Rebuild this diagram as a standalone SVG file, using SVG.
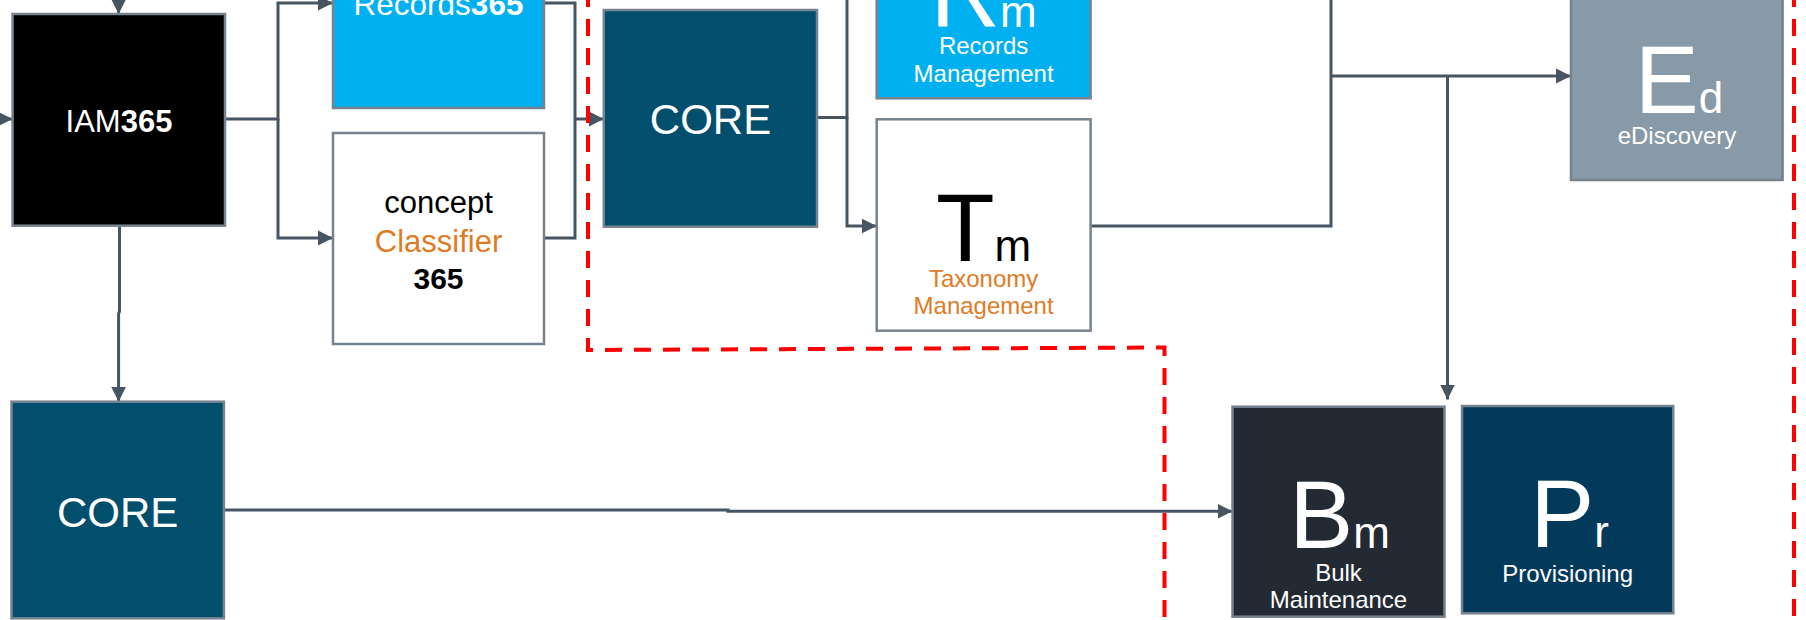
<svg xmlns="http://www.w3.org/2000/svg" width="1806" height="620" viewBox="0 0 1806 620">
<style>
.box{stroke:#76838f;stroke-width:2.5}
.conn{fill:none;stroke:#475563;stroke-width:3}
.arr{marker-end:url(#ah)}
.red{fill:none;stroke:#ff0000;stroke-width:4;stroke-dasharray:17 12}
text{font-family:"Liberation Sans",Arial,sans-serif;text-anchor:middle}
.w{fill:#ffffff}
.k{fill:#000000}
.o{fill:#e07b24}
.big{font-size:96px}
.sub{font-size:44px}
.lbl{font-size:24px}
.core{font-size:42px}
</style>
<defs>
<marker id="ah" markerUnits="userSpaceOnUse" markerWidth="16" markerHeight="16" viewBox="0 0 16 16" refX="15" refY="8" orient="auto">
<path d="M0,0.5 L15,8 L0,15.5 Z" fill="#475563"/>
</marker>
</defs>
<rect width="1806" height="620" fill="#ffffff"/>

<g id="connectors">
<path class="conn arr" d="M118.6,-20 V14"/>
<path class="conn arr" d="M-20,119 H12.6"/>
<path class="conn arr" d="M225,119 H278 V3 H333"/>
<path class="conn arr" d="M278,119 V238 H333"/>
<path class="conn" d="M544,3 H575 V238 H544"/>
<path class="conn arr" d="M575,119 H603.8"/>
<path class="conn" d="M817,117.5 H847 V-20"/>
<path class="conn arr" d="M847,117.5 V226 H876.7"/>
<path class="conn" d="M1090.6,226 H1331 V-20"/>
<path class="conn arr" d="M1331,76 H1571"/>
<path class="conn arr" d="M1447.5,76 V399.5"/>
<path class="conn arr" d="M119.5,226 V311 L118.6,314 V401.7"/>
<path class="conn arr" d="M224,510 H728 V511.3 H1232.5"/>
</g>

<g id="boundary">
<path class="red" d="M588,-10 V350 L1164.5,347.5 V630"/>
<path class="red" d="M1794,-10 V630"/>
</g>

<g id="iam365">
<rect class="box" x="12.6" y="14" width="212.4" height="211.7" fill="#000000"/>
<text x="119" y="131.5" font-size="31" class="w">IAM<tspan font-weight="bold">365</tspan></text>
</g>

<g id="records365">
<rect class="box" x="333" y="-104" width="211" height="212" fill="#00b0f0"/>
<text x="438.5" y="15" font-size="31.5" class="w">Records<tspan font-weight="bold">365</tspan></text>
</g>

<g id="classifier365">
<rect class="box" x="333" y="133" width="211" height="211" fill="#ffffff"/>
<text x="438.5" y="213" font-size="31" class="k">concept</text>
<text x="438.5" y="252" font-size="31" class="o">Classifier</text>
<text x="438.5" y="289" font-size="30" class="k" font-weight="bold">365</text>
</g>

<g id="core-top">
<rect class="box" x="603.8" y="10" width="213.2" height="216.7" fill="#014f6d"/>
<text x="710.5" y="134" class="core w">CORE</text>
</g>

<g id="records-management">
<rect class="box" x="876.7" y="-120" width="213.9" height="218.3" fill="#00b0f0"/>
<text x="983.6" y="27.3" class="w"><tspan class="big">R</tspan><tspan class="sub">m</tspan></text>
<text x="983.6" y="54" class="lbl w">Records</text>
<text x="983.6" y="81.7" class="lbl w">Management</text>
</g>

<g id="taxonomy-management">
<rect class="box" x="876.7" y="119.3" width="213.9" height="211.4" fill="#ffffff"/>
<text x="983.6" y="261" class="k"><tspan class="big">T</tspan><tspan class="sub">m</tspan></text>
<text x="983.6" y="286.7" class="lbl o">Taxonomy</text>
<text x="983.6" y="314.3" class="lbl o">Management</text>
</g>

<g id="ediscovery">
<rect class="box" x="1571" y="-32" width="211.6" height="212" fill="#8899a7"/>
<text x="1679" y="112.7" class="w"><tspan class="big">E</tspan><tspan class="sub">d</tspan></text>
<text x="1677" y="144" class="lbl w">eDiscovery</text>
</g>

<g id="core-bottom">
<rect class="box" x="11.5" y="401.7" width="212.4" height="216.6" fill="#014f6d"/>
<text x="117.7" y="527.3" class="core w">CORE</text>
</g>

<g id="bulk-maintenance">
<rect class="box" x="1232.5" y="406.7" width="212" height="210" fill="#232a33"/>
<text x="1339.5" y="548.3" class="w"><tspan class="big">B</tspan><tspan class="sub">m</tspan></text>
<text x="1338.5" y="580.7" class="lbl w">Bulk</text>
<text x="1338.5" y="608.3" class="lbl w">Maintenance</text>
</g>

<g id="provisioning">
<rect class="box" x="1462" y="406" width="211.3" height="207.3" fill="#033a5b"/>
<text x="1569.5" y="546.7" class="w"><tspan class="big">P</tspan><tspan class="sub">r</tspan></text>
<text x="1567.7" y="581.7" class="lbl w">Provisioning</text>
</g>
</svg>
